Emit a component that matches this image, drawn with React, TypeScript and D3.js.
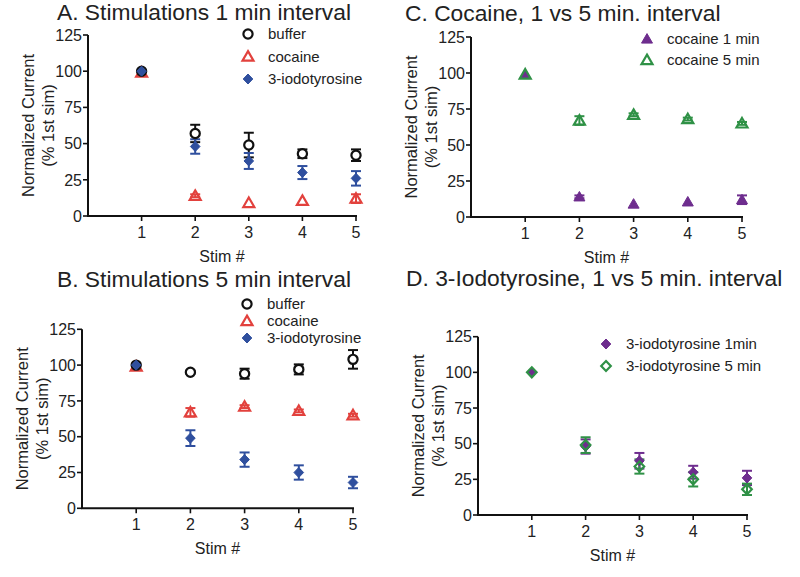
import React from "react";
import * as d3 from "d3";

// ---- data ----
const stims = [1, 2, 3, 4, 5];
const yTicks = [0, 25, 50, 75, 100, 125];

const buffer1 = [100, 57, 49, 43, 42];
const buffer1Err = [0, 6, 8.5, 3, 4];
const cocaine1 = [99, 14, 9, 10.5, 12];
const cocaine1Err = [0, 1, 0.5, 0.5, 3];
const iodo1 = [100, 48, 38, 30, 26];
const iodo1Err = [0, 5, 5.5, 4.5, 5];

const buffer5 = [100, 95, 94, 97, 104];
const buffer5Err = [0, 1, 3.5, 3.5, 6.5];
const cocaine5 = [99, 67, 71, 68, 65];
const cocaine5Err = [0, 3, 1, 1, 1];
const iodo5 = [100, 49, 34, 25, 18];
const iodo5Err = [0, 5.5, 5, 5, 4];

const titles = [
  "A. Stimulations 1 min interval",
  "B. Stimulations 5 min interval",
  "C. Cocaine, 1 vs 5 min. interval",
  "D. 3-Iodotyrosine, 1 vs 5 min. interval",
];

const RED = "#e2413d";
const BLUE = "#2f4f9e";
const BLACK = "#111111";
const PURPLE = "#6e2d8e";
const GREEN = "#2f9146";
const FONT = "'Liberation Sans', Arial, Helvetica, sans-serif";
const TEXT = "#222";

type Shape = "circle" | "triangle" | "diamond";
interface Series {
  label: string;
  values: number[];
  errors: number[];
  color: string;
  shape: Shape;
  filled: boolean;
}

interface PanelCfg {
  title: string;
  titleX: number;
  titleY: number;
  x0: number;
  x1: number;
  yBottom: number;
  yTop: number;
  legendX: number;
  legendY: number;
  legendStep: number;
  series: Series[];
  legendOrder?: number[];
}

function markerPath(shape: Shape): string {
  if (shape === "circle") {
    const r = 4.6;
    return `M${r},0A${r},${r},0,1,1,${-r},0A${r},${r},0,1,1,${r},0Z`;
  }
  if (shape === "triangle") {
    return "M0,-5.4L5.5,4.1L-5.5,4.1Z";
  }
  return "M0,-5L4.8,0L0,5L-4.8,0Z";
}

function Marker({ s, x, y }: { s: Series; x: number; y: number }) {
  const d = markerPath(s.shape);
  const fill = s.filled ? s.color : s.shape === "circle" ? "#fff" : "none";
  return (
    <path
      d={d}
      transform={`translate(${x},${y})`}
      fill={fill}
      stroke={s.color}
      strokeWidth={s.filled ? 1 : 2.2}
    />
  );
}

function Panel({ cfg }: { cfg: PanelCfg }) {
  const x = d3.scaleLinear().domain([0, 5]).range([cfg.x0, cfg.x1]);
  const y = d3.scaleLinear().domain([0, 125]).range([cfg.yBottom, cfg.yTop]);
  const yMid = (cfg.yBottom + cfg.yTop) / 2;
  const order = cfg.legendOrder ?? cfg.series.map((_, i) => i);
  return (
    <g fontFamily={FONT}>
      <text x={cfg.titleX} y={cfg.titleY} fontSize={22.8} fill={TEXT}>
        {cfg.title}
      </text>
      {/* axes */}
      <line x1={cfg.x0} x2={cfg.x0} y1={y(0)} y2={y(125)} stroke={BLACK} strokeWidth={2} />
      <line x1={cfg.x0 - 1} x2={x(5) + 1} y1={y(0)} y2={y(0)} stroke={BLACK} strokeWidth={2} />
      {yTicks.map((t) => (
        <g key={"y" + t}>
          <line x1={cfg.x0 - 5} x2={cfg.x0} y1={y(t)} y2={y(t)} stroke={BLACK} strokeWidth={1.6} />
          <text
            x={cfg.x0 - 6}
            y={y(t)}
            dy="0.36em"
            textAnchor="end"
            fontSize={16}
            fill={TEXT}
          >
            {t}
          </text>
        </g>
      ))}
      {stims.map((t) => (
        <g key={"x" + t}>
          <line x1={x(t)} x2={x(t)} y1={y(0)} y2={y(0) + 5} stroke={BLACK} strokeWidth={1.6} />
          <text x={x(t)} y={y(0) + 22} textAnchor="middle" fontSize={16} fill={TEXT}>
            {t}
          </text>
        </g>
      ))}
      <text
        x={(cfg.x0 + x(5)) / 2}
        y={y(0) + 46}
        textAnchor="middle"
        fontSize={16}
        fill={TEXT}
      >
        Stim #
      </text>
      <text
        transform={`translate(${cfg.x0 - 54},${yMid}) rotate(-90)`}
        textAnchor="middle"
        fontSize={16.5}
        fill={TEXT}
      >
        Normalized Current
      </text>
      <text
        transform={`translate(${cfg.x0 - 34},${yMid}) rotate(-90)`}
        textAnchor="middle"
        fontSize={16.5}
        fill={TEXT}
      >
        (% 1st sim)
      </text>
      {/* error bars */}
      {cfg.series.map((s, si) => (
        <g key={"e" + si}>
          {s.values.map((v, i) => {
            const e = s.errors[i];
            if (!e || e < 1) return null;
            const cx = x(stims[i]);
            return (
              <g key={i} stroke={s.color} strokeWidth={2}>
                <line x1={cx} x2={cx} y1={y(v - e)} y2={y(v + e)} />
                <line x1={cx - 5} x2={cx + 5} y1={y(v + e)} y2={y(v + e)} />
                <line x1={cx - 5} x2={cx + 5} y1={y(v - e)} y2={y(v - e)} />
              </g>
            );
          })}
        </g>
      ))}
      {/* markers */}
      {cfg.series.map((s, si) => (
        <g key={"m" + si}>
          {s.values.map((v, i) => (
            <Marker key={i} s={s} x={x(stims[i])} y={y(v)} />
          ))}
        </g>
      ))}
      {/* legend */}
      {order.map((si, k) => {
        const s = cfg.series[si];
        const ly = cfg.legendY + k * cfg.legendStep;
        return (
          <g key={"l" + si}>
            <Marker s={s} x={cfg.legendX} y={ly} />
            <text x={cfg.legendX + 20} y={ly} dy="0.36em" fontSize={15} fill={TEXT}>
              {s.label}
            </text>
          </g>
        );
      })}
    </g>
  );
}

export default function App() {
  const panels: PanelCfg[] = [
    {
      title: titles[0],
      titleX: 57,
      titleY: 20,
      x0: 88,
      x1: 356,
      yBottom: 216,
      yTop: 35,
      legendX: 248,
      legendY: 34,
      legendStep: 22.5,
      series: [
        { label: "cocaine", values: cocaine1, errors: cocaine1Err, color: RED, shape: "triangle", filled: false },
        { label: "buffer", values: buffer1, errors: buffer1Err, color: BLACK, shape: "circle", filled: false },
        { label: "3-iodotyrosine", values: iodo1, errors: iodo1Err, color: BLUE, shape: "diamond", filled: true },
      ],
      legendOrder: [1, 0, 2],
    },
    {
      title: titles[1],
      titleX: 57,
      titleY: 287,
      x0: 82,
      x1: 353,
      yBottom: 508.3,
      yTop: 329.3,
      legendX: 247,
      legendY: 304,
      legendStep: 17,
      series: [
        { label: "cocaine", values: cocaine5, errors: cocaine5Err, color: RED, shape: "triangle", filled: false },
        { label: "buffer", values: buffer5, errors: buffer5Err, color: BLACK, shape: "circle", filled: false },
        { label: "3-iodotyrosine", values: iodo5, errors: iodo5Err, color: BLUE, shape: "diamond", filled: true },
      ],
      legendOrder: [1, 0, 2],
    },
    {
      title: titles[2],
      titleX: 405,
      titleY: 20.5,
      x0: 471,
      x1: 742,
      yBottom: 217,
      yTop: 37,
      legendX: 647,
      legendY: 39,
      legendStep: 21,
      series: [
        { label: "cocaine 1 min", values: cocaine1, errors: cocaine1Err, color: PURPLE, shape: "triangle", filled: true },
        { label: "cocaine 5 min", values: cocaine5, errors: cocaine5Err, color: GREEN, shape: "triangle", filled: false },
      ],
    },
    {
      title: titles[3],
      titleX: 406,
      titleY: 286,
      x0: 478,
      x1: 747,
      yBottom: 515,
      yTop: 336.7,
      legendX: 606,
      legendY: 344,
      legendStep: 22,
      series: [
        { label: "3-iodotyrosine 1min", values: iodo1, errors: iodo1Err, color: PURPLE, shape: "diamond", filled: true },
        { label: "3-iodotyrosine 5 min", values: iodo5, errors: iodo5Err, color: GREEN, shape: "diamond", filled: false },
      ],
    },
  ];
  return (
    <svg
      width={800}
      height={577}
      viewBox="0 0 800 577"
      style={{ position: "absolute", left: 0, top: 0, background: "#fff" }}
    >
      <rect width={800} height={577} fill="#fff" />
      {panels.map((p, i) => (
        <Panel key={i} cfg={p} />
      ))}
    </svg>
  );
}
